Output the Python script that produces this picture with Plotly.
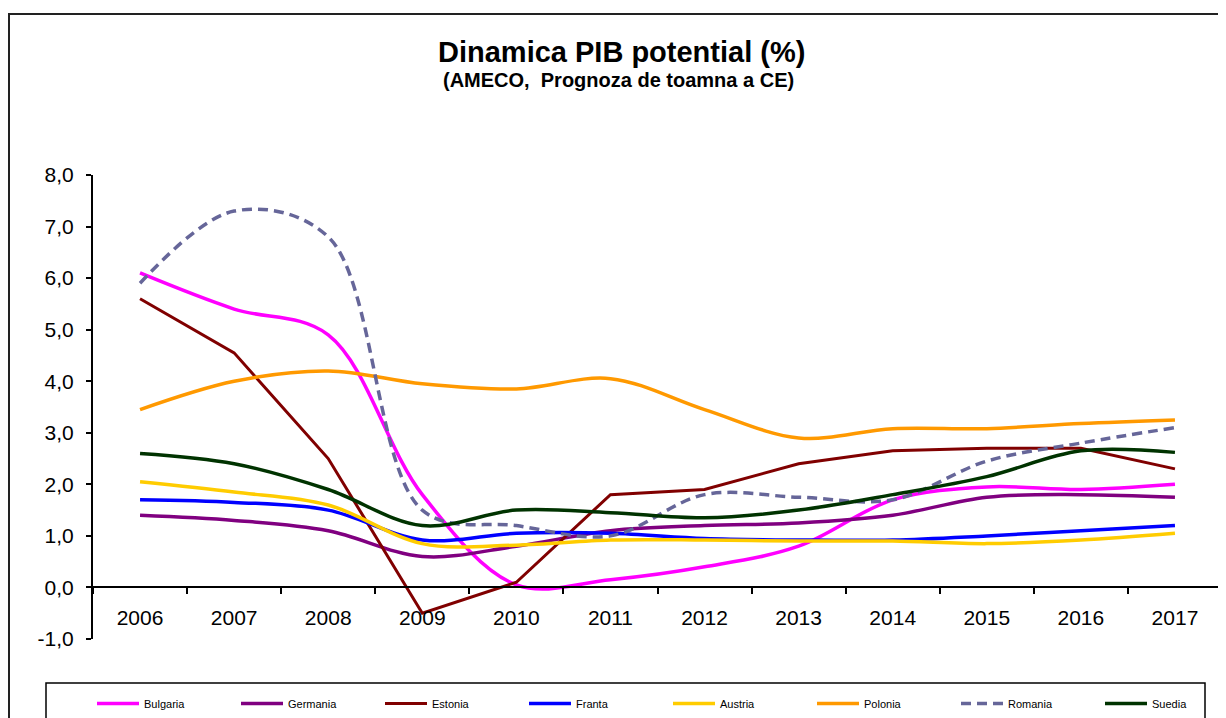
import plotly.graph_objects as go

years = ["2006", "2007", "2008", "2009", "2010", "2011", "2012", "2013", "2014", "2015", "2016", "2017"]

bulgaria = [6.1, 5.4, 4.9, 1.8, 0.05, 0.15, 0.4, 0.8, 1.7, 1.95, 1.9, 2.0]
germania = [1.4, 1.3, 1.1, 0.6, 0.8, 1.1, 1.2, 1.25, 1.4, 1.75, 1.8, 1.75]
estonia = [5.6, 4.55, 2.5, -0.5, 0.1, 1.8, 1.9, 2.4, 2.65, 2.7, 2.7, 2.3]
franta = [1.7, 1.65, 1.5, 0.92, 1.05, 1.05, 0.95, 0.92, 0.92, 1.0, 1.1, 1.2]
austria = [2.05, 1.85, 1.6, 0.85, 0.82, 0.92, 0.92, 0.9, 0.9, 0.85, 0.92, 1.05]
polonia = [3.45, 4.0, 4.2, 3.95, 3.85, 4.05, 3.45, 2.9, 3.08, 3.08, 3.18, 3.25]
romania = [5.9, 7.3, 6.8, 1.5, 1.2, 1.0, 1.8, 1.75, 1.7, 2.45, 2.8, 3.1]
suedia = [2.6, 2.4, 1.9, 1.2, 1.5, 1.45, 1.35, 1.5, 1.8, 2.15, 2.65, 2.62]

y_tick_values = [-1, 0, 1, 2, 3, 4, 5, 6, 7, 8]
y_tick_labels = ["-1,0", "0,0", "1,0", "2,0", "3,0", "4,0", "5,0", "6,0", "7,0", "8,0"]

series = [
    ("Bulgaria", bulgaria, "#FF00FF", "spline", "solid"),
    ("Germania", germania, "#800080", "spline", "solid"),
    ("Estonia", estonia, "#800000", "linear", "solid"),
    ("Franta", franta, "#0000FF", "spline", "solid"),
    ("Austria", austria, "#FFCC00", "spline", "solid"),
    ("Polonia", polonia, "#FF9900", "spline", "solid"),
    ("Romania", romania, "#666699", "spline", "dash"),
    ("Suedia", suedia, "#003300", "spline", "solid"),
]

# page body has an 8px margin: figure pixel = screen pixel - 8
OFF = 8
W, H = 1226 - OFF, 718 - OFF
L, R, T, B = 93 - OFF, 1222 - OFF, 175 - OFF, 639 - OFF


def px(x):
    """screen x (reference pixels) -> paper x"""
    return (x - OFF - L) / (R - L)


def py(y):
    """screen y (reference pixels) -> paper y"""
    return (B - (y - OFF)) / (B - T)


fig = go.Figure()
for name, vals, color, shape, dash in series:
    fig.add_trace(go.Scatter(
        x=years, y=vals, name=name, mode="lines",
        line=dict(color=color, width=3.5 if name != "Estonia" else 3, shape=shape,
                  smoothing=1, dash="10px,6px" if dash == "dash" else "solid"),
        hoverinfo="skip",
    ))

font_family = "Liberation Sans, Arial, sans-serif"

fig.update_layout(
    width=W, height=H,
    margin=dict(l=L, r=W - R, t=T, b=H - B, pad=0, autoexpand=False),
    paper_bgcolor="white", plot_bgcolor="white",
    separators=", ",
    font=dict(family=font_family, color="black"),
    showlegend=True,
    legend=dict(
        orientation="h", x=px(92), y=py(689), xanchor="left", yanchor="top",
        font=dict(size=11, family=font_family), itemwidth=42,
        entrywidth=87, entrywidthmode="pixels",
        bgcolor="rgba(0,0,0,0)", borderwidth=0, traceorder="normal",
    ),
    xaxis=dict(
        type="category", categoryorder="array", categoryarray=years,
        range=[-0.5, 11.5], anchor="free", position=1 / 9,
        showline=True, linecolor="black", linewidth=2,
        ticks="outside", ticklen=6, tickwidth=1.5, tickcolor="black", tickson="boundaries",
        showgrid=False, zeroline=False,
        tickfont=dict(size=21, family=font_family), ticklabelstandoff=11,
    ),
    yaxis=dict(
        range=[-1, 8], tickmode="array", tickvals=y_tick_values, ticktext=y_tick_labels,
        showline=True, linecolor="black", linewidth=2,
        ticks="outside", ticklen=5, tickwidth=1.5, tickcolor="black",
        showgrid=False, zeroline=False,
        tickfont=dict(size=21, family=font_family), ticklabelstandoff=8,
    ),
    shapes=[
        dict(type="rect", xref="paper", yref="paper",
             x0=px(9), x1=px(1240), y0=py(740), y1=py(14),
             line=dict(color="#222222", width=2), fillcolor="rgba(0,0,0,0)", layer="below"),
        dict(type="rect", xref="paper", yref="paper",
             x0=px(46), x1=px(1205), y0=py(740), y1=py(683),
             line=dict(color="black", width=1.5), fillcolor="rgba(0,0,0,0)", layer="below"),
    ],
    annotations=[
        dict(text="<b>Dinamica PIB potential (%)</b>", xref="paper", yref="paper",
             x=px(621), y=py(52), xanchor="center", yanchor="middle", showarrow=False,
             font=dict(size=29, family=font_family)),
        dict(text="<b>(AMECO,  Prognoza de toamna a CE)</b>", xref="paper", yref="paper",
             x=px(618), y=py(80), xanchor="center", yanchor="middle", showarrow=False,
             font=dict(size=20, family=font_family)),
    ],
)

fig.write_html("out.html")
